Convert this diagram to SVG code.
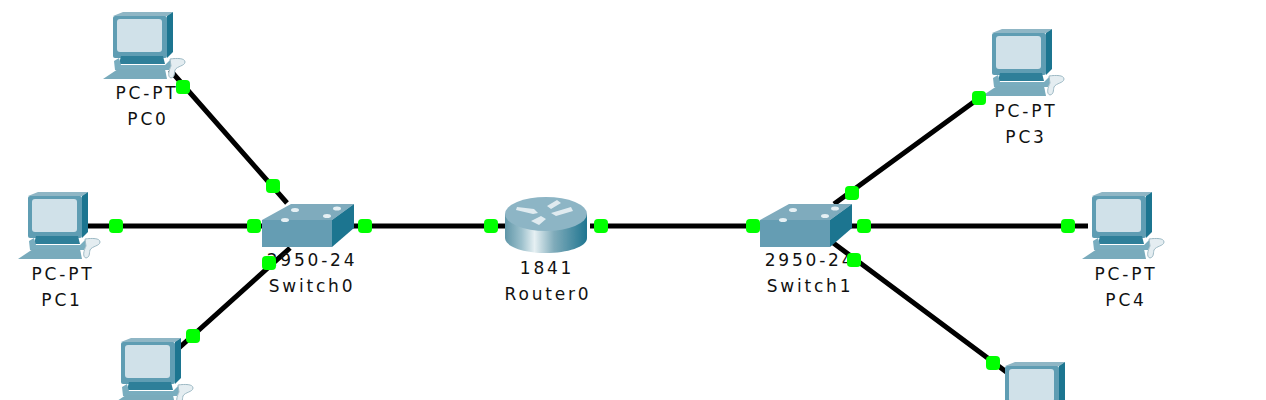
<svg xmlns="http://www.w3.org/2000/svg" width="1266" height="400" viewBox="0 0 1266 400">
<style>
.link{stroke:#000;stroke-width:5;fill:none}
.dot{fill:#0f0}
text{font-family:"DejaVu Sans",sans-serif;font-size:17px;fill:#111;text-anchor:middle;letter-spacing:2.8px}
.soft{filter:url(#soft)}
</style>
<defs>
<filter id="soft" x="-5%" y="-5%" width="110%" height="110%"><feGaussianBlur stdDeviation="0.5"/></filter>
<linearGradient id="rg" x1="0" x2="1" y1="0" y2="0">
<stop offset="0" stop-color="#5f96a8"/><stop offset=".2" stop-color="#9cc0cc"/><stop offset=".36" stop-color="#e6f0f3"/><stop offset=".6" stop-color="#7fabba"/><stop offset="1" stop-color="#1f7590"/>
</linearGradient>
<g id="pc" class="soft">
<path d="M28 196 38 192H88L82 196Z" fill="#8fb6c5"/>
<path d="M82 196 88 192V232L82 238Z" fill="#1f7590"/>
<rect x="28" y="196" width="54" height="42" rx="2" fill="#5f9db3"/>
<rect x="32" y="199" width="45" height="33" rx="3" fill="#d0e1e9"/>
<path d="M36 236H78L80 244H34Z" fill="#2f7f99"/>
<path d="M29 241 34 238 36 245H80L86 239 90 240 84 250H30Z" fill="#79adbf"/>
<path d="M33 249H80L82 259H18Z" fill="#79abbc"/>
<path d="M85 239C92 238 100 238 100 242 100 246 92 246 90 250 89 254 90 257 86 258 82 257 84 250 86 246Z" fill="#e4edf1" stroke="#9db9c4" stroke-width="1"/>
</g>
<g id="sw" class="soft">
<path d="M262 220 291 204H354L332 220Z" fill="#7fabbd"/>
<rect x="262" y="220" width="70" height="27" fill="#659db3"/>
<path d="M332 220 354 204V228L332 247Z" fill="#1f7590"/>
<g fill="#e6f0f4"><ellipse cx="295" cy="210" rx="4" ry="2"/><ellipse cx="337" cy="208.500" rx="4" ry="2"/><ellipse cx="285" cy="220" rx="4" ry="2"/><ellipse cx="327" cy="216" rx="4" ry="2"/></g>
</g>
</defs>
<rect width="1266" height="400" fill="#fff"/>
<g id="connectors">
<path class="link" d="M170 70 287 203 M85 226H263 M170 356 290 248 M345 226H510 M590 226H775 M834 204 982 96 M840 226H1088 M832 242 1020 382"/>
</g>
<g id="PC0"><use href="#pc" x="85" y="-180"/><text x="147" y="99">PC-PT</text><text x="148" y="125">PC0</text></g>
<g id="PC1"><use href="#pc"/><text x="63" y="280">PC-PT</text><text x="62" y="306">PC1</text></g>
<g id="PC2"><use href="#pc" x="93" y="146"/></g>
<g id="PC3"><use href="#pc" x="964" y="-163"/><text x="1026" y="117">PC-PT</text><text x="1026" y="143">PC3</text></g>
<g id="PC4"><use href="#pc" x="1064"/><text x="1126" y="280">PC-PT</text><text x="1126" y="306">PC4</text></g>
<g id="PC5"><use href="#pc" x="977" y="170"/></g>
<g id="Switch0"><use href="#sw"/><text x="312" y="266">2950-24</text><text x="312" y="292">Switch0</text></g>
<g id="Router0">
<g class="soft">
<path d="M505 214V238C505 247 525 253 546 253 567 253 587 247 587 238V214Z" fill="url(#rg)"/>
<ellipse cx="546" cy="214" rx="41" ry="17" fill="#8db5c5"/>
<path d="M517 207 534 209 538 213 533 214 516 210ZM573 211 556 216 551 213 571 207ZM547 206 557 200 561 203 551 209ZM531 221 541 216 546 219 539 225Z" fill="#e0ebf0"/>
</g>
<text x="547" y="274">1841</text><text x="548" y="300">Router0</text>
</g>
<g id="Switch1"><use href="#sw" x="498"/><text x="810" y="266">2950-24</text><text x="810" y="292">Switch1</text></g>
<g id="dots" class="dot">
<rect x="176" y="80" width="14" height="14" rx="4"/><rect x="266" y="179" width="14" height="14" rx="4"/>
<rect x="109" y="219" width="14" height="14" rx="4"/><rect x="247" y="219" width="14" height="14" rx="4"/>
<rect x="262" y="256" width="14" height="14" rx="4"/><rect x="186" y="329" width="14" height="14" rx="4"/>
<rect x="358" y="219" width="14" height="14" rx="4"/><rect x="484" y="219" width="14" height="14" rx="4"/>
<rect x="594" y="219" width="14" height="14" rx="4"/><rect x="746" y="219" width="14" height="14" rx="4"/>
<rect x="845" y="186" width="14" height="14" rx="4"/><rect x="972" y="91" width="14" height="14" rx="4"/>
<rect x="857" y="219" width="14" height="14" rx="4"/><rect x="1061" y="219" width="14" height="14" rx="4"/>
<rect x="847" y="253" width="14" height="14" rx="4"/><rect x="986" y="356" width="14" height="14" rx="4"/>
</g>
</svg>
